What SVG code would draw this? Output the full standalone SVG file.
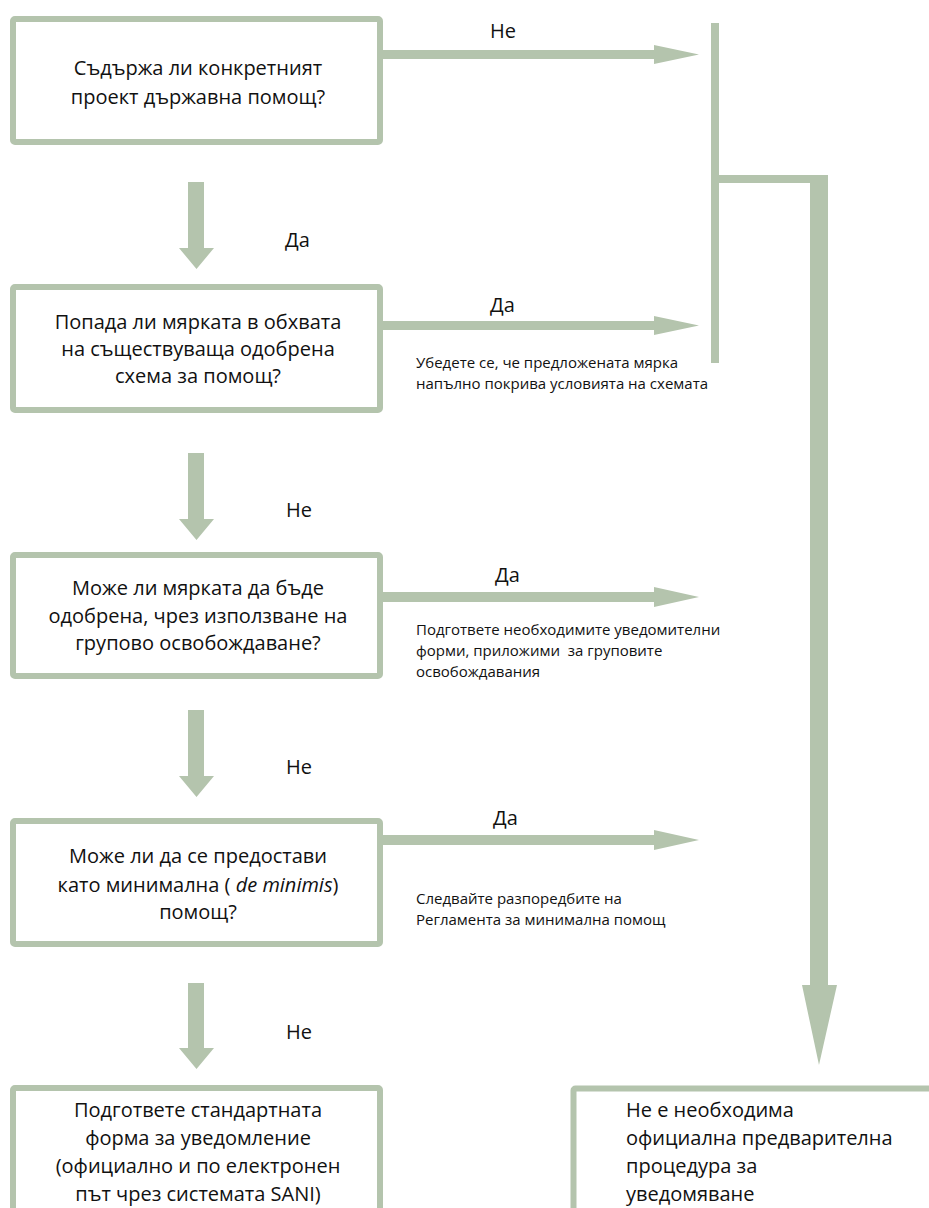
<svg xmlns="http://www.w3.org/2000/svg" width="929" height="1208" viewBox="0 0 929 1208">
<style>
.box{fill:#fff;stroke:#b4c4ad;stroke-width:6}
.c{fill:#b4c4ad}
.t{font-family:"Open Sans","Noto Sans","DejaVu Sans",sans-serif;font-size:20px;fill:#111}
.m{text-anchor:middle}
.s{font-family:"Open Sans","Noto Sans","DejaVu Sans",sans-serif;font-size:15px;fill:#111}
.l{font-family:"Open Sans","Noto Sans","DejaVu Sans",sans-serif;font-size:20px;fill:#111}
</style>
<rect width="929" height="1208" fill="#fff"/>
<g id="connectors">
  <path class="c" d="M383,50 H654 V45 L699,54.5 L654,64 V59 H383 Z"/>
  <path class="c" d="M383,321 H654 V316 L699,325.5 L654,335 V330 H383 Z"/>
  <path class="c" d="M383,592 H654 V587 L699,597 L654,607 V602 H383 Z"/>
  <path class="c" d="M383,835 H654 V830 L699,840 L654,850 V845 H383 Z"/>
  <path class="c" d="M188,182 H204 V248 H214 L196.5,269 L179,248 H188 Z"/>
  <path class="c" d="M188,453 H204 V519 H214 L196.5,540 L179,519 H188 Z"/>
  <path class="c" d="M188,710 H204 V776 H214 L196.5,797 L179,776 H188 Z"/>
  <path class="c" d="M188,983 H204 V1048 H214 L196.5,1069 L179,1048 H188 Z"/>
  <rect class="c" x="711" y="23" width="8" height="340"/>
  <rect class="c" x="719" y="175" width="109" height="8"/>
  <path class="c" d="M810,175 H828 V985 H837 L819,1065 L802,985 H810 Z"/>
  <text class="l" x="490" y="38">Не</text>
  <text class="l" x="285" y="247">Да</text>
  <text class="l" x="490" y="312">Да</text>
  <text class="l" x="286" y="517">Не</text>
  <text class="l" x="495" y="582">Да</text>
  <text class="l" x="286" y="774">Не</text>
  <text class="l" x="493" y="825">Да</text>
  <text class="l" x="286" y="1039">Не</text>
  <text class="s" x="416" y="368">Убедете се, че предложената мярка</text>
  <text class="s" x="416" y="389">напълно покрива условията на схемата</text>
  <text class="s" x="416" y="635">Подгответе необходимите уведомителни</text>
  <text class="s" x="416" y="656" xml:space="preserve">форми, приложими  за груповите</text>
  <text class="s" x="416" y="677">освобождавания</text>
  <text class="s" x="416" y="904">Следвайте разпоредбите на</text>
  <text class="s" x="416" y="925">Регламента за минимална помощ</text>
</g>
<g id="n1">
  <rect class="box" x="13" y="19" width="367" height="123" rx="2"/>
  <text class="t m" x="198" y="75">Съдържа ли конкретният</text>
  <text class="t m" x="198" y="104">проект държавна помощ?</text>
</g>
<g id="n2">
  <rect class="box" x="13" y="287" width="367" height="123" rx="2"/>
  <text class="t m" x="198" y="329">Попада ли мярката в обхвата</text>
  <text class="t m" x="198" y="356">на съществуваща одобрена</text>
  <text class="t m" x="198" y="383">схема за помощ?</text>
</g>
<g id="n3">
  <rect class="box" x="13" y="555" width="367" height="121" rx="2"/>
  <text class="t m" x="198" y="595">Може ли мярката да бъде</text>
  <text class="t m" x="198" y="623">одобрена, чрез използване на</text>
  <text class="t m" x="198" y="650">групово освобождаване?</text>
</g>
<g id="n4">
  <rect class="box" x="13" y="821" width="367" height="123" rx="2"/>
  <text class="t m" x="198" y="863">Може ли да се предостави</text>
  <text class="t m" x="198" y="892">като минимална ( <tspan font-style="italic">de minimis</tspan>)</text>
  <text class="t m" x="198" y="919">помощ?</text>
</g>
<g id="n5">
  <rect class="box" x="13" y="1088" width="367" height="140" rx="2"/>
  <text class="t m" x="198" y="1117">Подгответе стандартната</text>
  <text class="t m" x="198" y="1145">форма за уведомление</text>
  <text class="t m" x="198" y="1173">(официално и по електронен</text>
  <text class="t m" x="198" y="1201">път чрез системата SANI)</text>
</g>
<g id="n6">
  <rect class="box" x="573.5" y="1088.5" width="380" height="140" rx="2"/>
  <text class="t" x="626" y="1117">Не е необходима</text>
  <text class="t" x="626" y="1145">официална предварителна</text>
  <text class="t" x="626" y="1173">процедура за</text>
  <text class="t" x="626" y="1201">уведомяване</text>
</g>
</svg>
